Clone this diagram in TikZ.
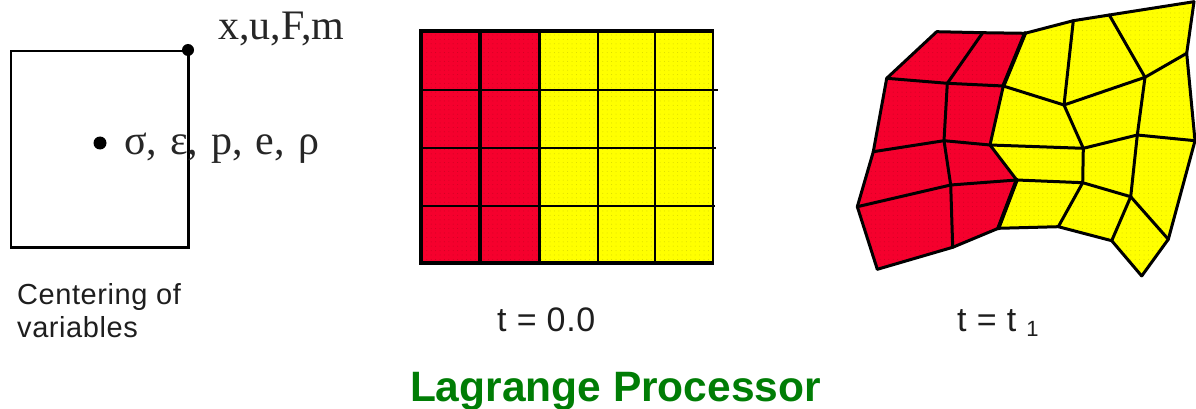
\documentclass[tikz,border=0pt]{standalone}
\usepackage{fontspec}
\usepackage{xcolor}
\usetikzlibrary{patterns.meta}
\setmainfont{Liberation Serif}
\newfontfamily\labelfont[LetterSpace=2]{Liberation Sans}
\definecolor{MeshRed}{RGB}{245,0,45}
\definecolor{MeshYellow}{RGB}{255,255,0}
\definecolor{RedDots}{RGB}{205,0,35}
\definecolor{YellowDots}{RGB}{215,215,0}
\definecolor{TitleGreen}{RGB}{0,125,5}
\definecolor{CaptionGray}{RGB}{30,30,30}
\tikzset{
  meshline/.style={line width=3pt,line cap=round,line join=round},
  redzone/.style={preaction={fill=MeshRed},pattern={Dots[distance=4.4pt,radius=.5pt]},pattern color=RedDots},
  yellowzone/.style={preaction={fill=MeshYellow},pattern={Dots[distance=4.4pt,radius=.5pt]},pattern color=YellowDots},
  vardot/.style={circle,fill=black,inner sep=0pt},
  seriftext/.style={anchor=base west,inner sep=0pt,text=black!85,font=\fontsize{42}{44}\selectfont},
  captext/.style={anchor=base west,inner sep=0pt,text=CaptionGray,align=left,
    font=\labelfont\fontsize{29}{30}\selectfont},
  timetext/.style={captext,font=\labelfont\fontsize{34}{36}\selectfont},
}
\begin{document}
\begin{tikzpicture}[x=1pt,y=-1pt]
  \useasboundingbox (0,0) rectangle (1196,409);

  % centering of variables
  \draw[line width=2.2pt] (11,51) rectangle (188.5,247.5);
  \node[vardot,minimum size=12pt] (nodedot) at (188,50) {};
  \node[vardot,minimum size=13pt] (zonedot) at (100,143) {};
  \node[seriftext] (nodevars) at (218,40) {x,u,F,m};
  \node[seriftext] (zonevars) at (124,154) {\spaceskip=13pt σ, ε, p, e, ρ};
  \node[captext] (centering) at (17,304) {Centering of};
  \node[captext] (variables) at (17,337) {variables};

  % initial mesh
  \path[redzone] (421,31) rectangle (539.5,263);
  \path[yellowzone] (539.5,31) rectangle (713,263);
  \foreach \x in {421,480,539.5}
    \draw[line width=3.6pt] (\x,31) -- (\x,263);
  \foreach \x in {598,655,713}
    \draw[line width=2.4pt] (\x,31) -- (\x,263);
  \draw[line width=3.4pt] (419,31) -- (714,31);
  \draw[line width=3.4pt] (419,263) -- (714,263);
  \foreach \y/\xend in {90/718,148/716,206/715}
    \draw[line width=2.8pt] (421,\y) -- (\xend,\y);
  \node[timetext] (timezero) at (497,331) {t = 0.0};

  % deformed mesh
  \foreach \r/\xa/\ya/\xb/\yb/\xc/\yc/\xd/\yd/\xe/\ye/\xf/\yf in {
    1/936.7/31.7/982.7/32.7/1025/33.3/1073.3/20.7/1109.3/15/1194/1.7,
    2/886.7/78.3/947.3/83.3/1003.3/86/1064/105/1145/77.3/1186.7/53.3,
    3/873.3/151.7/944/140.7/990/145/1083.3/148.3/1137.3/135/1195/140.7,
    4/857.3/206.7/950.7/185/1016.7/180/1082.7/182.7/1130.7/196.7/1168.3/239.3,
    5/877.3/269.3/952.7/247.3/998.3/228.3/1058.3/226.7/1111.7/240.7/1141.7/276}{
    \coordinate (v\r1) at (\xa,\ya);
    \coordinate (v\r2) at (\xb,\yb);
    \coordinate (v\r3) at (\xc,\yc);
    \coordinate (v\r4) at (\xd,\yd);
    \coordinate (v\r5) at (\xe,\ye);
    \coordinate (v\r6) at (\xf,\yf);
  }
  \path[redzone] (v11) -- (v12) -- (v13) -- (v23) -- (v33) -- (v43) -- (v53)
    -- (v52) -- (v51) -- (v41) -- (v31) -- (v21) -- cycle;
  \path[yellowzone] (v13) -- (v14) -- (v15) -- (v16) -- (v26) -- (v36) -- (v46)
    -- (v56) -- (v55) -- (v54) -- (v53) -- (v43) -- (v33) -- (v23) -- cycle;
  \foreach \r in {1,...,5}
    \foreach \c/\d in {1/2,2/3,3/4,4/5,5/6}
      \draw[meshline] (v\r\c) -- (v\r\d);
  \foreach \c in {1,...,6}
    \foreach \r/\s in {1/2,2/3,3/4,4/5}
      \draw[meshline] (v\r\c) -- (v\s\c);
  \draw[meshline,line width=4pt] (v13) -- (v23) (v43) -- (v53);
  \node[timetext] (timeone) at (957,331) {t = t \raisebox{-5pt}{\fontsize{22}{22}\selectfont 1}};

  \node[anchor=base,inner sep=0pt,text=TitleGreen,
    font=\fontspec{Liberation Sans}\bfseries\fontsize{42.5}{44}\selectfont] (title) at (615.5,401.5)
    {Lagrange Processor};
\end{tikzpicture}
\end{document}
